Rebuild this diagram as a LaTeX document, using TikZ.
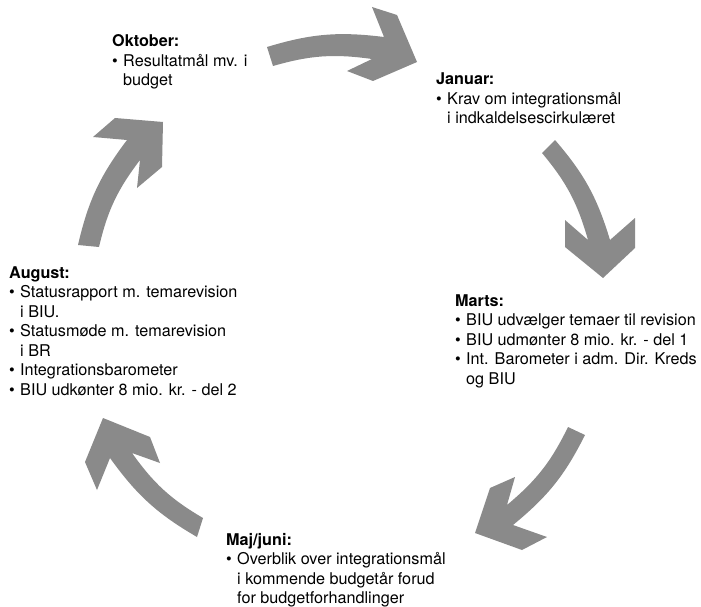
\documentclass[tikz,border=0pt]{standalone}
\usepackage{fontspec}
\setmainfont{TeX Gyre Heros}
\definecolor{arrowgray}{RGB}{138,138,138}
\newcommand{\mybul}{\makebox[11pt][l]{\textbullet}}
\newcommand{\myind}{\hspace*{11pt}}
\newcommand{\stagetext}[1]{\begin{tabular}[t]{@{}l@{}}#1\end{tabular}}
\tikzset{
  blockarrow/.style={fill=arrowgray, draw=none},
  stage/.style={anchor=base west, inner sep=0pt, font=\fontsize{16.2}{19.5}\selectfont},
}
\begin{document}
\begin{tikzpicture}[x=1pt,y=-1pt]
\useasboundingbox (0,0) rectangle (701,607);
% arrows
\fill[blockarrow] (267,47) to[bend left=12] (384,37) -- (372,7) -- (397,15) -- (417,62) -- (373,81) -- (347,71) -- (372,59) to[bend right=12] (273,66) -- cycle;
\fill[blockarrow] (555,140) to[bend left=12] (610,240) -- (635,218) -- (635,248) -- (603,278) -- (565,247) -- (565,220) -- (588,240) to[bend right=12] (542,153) -- cycle;
\fill[blockarrow] (585,435) to[bend left=12] (513,525) -- (547,537) -- (522,550) -- (475,533) -- (490,488) -- (515,477) -- (507,505) to[bend right=12] (568,427) -- cycle;
\fill[blockarrow] (197,537) to[bend left=12] (110,458) -- (97,490) -- (85,462) -- (103,418) -- (150,437) -- (160,463) -- (132,453) to[bend right=12] (203,518) -- cycle;
\fill[blockarrow] (78,245) to[bend left=12] (127,140) -- (93,137) -- (115,118) -- (163,122) -- (162,167) -- (137,188) -- (140,160) to[bend right=12] (99,247) -- cycle;
% texts
\node[stage] (okt) at (112,47) {\stagetext{\textbf{Oktober:}\\ \mybul Resultatmål mv. i\\ \myind budget}};
\node[stage] (jan) at (436,85) {\stagetext{\textbf{Januar:}\\ \mybul Krav om integrationsmål\\ \myind i indkaldelsescirkulæret}};
\node[stage] (mar) at (455,306) {\stagetext{\textbf{Marts:}\\ \mybul BIU udvælger temaer til revision\\ \mybul BIU udmønter 8 mio. kr. - del 1\\ \mybul Int. Barometer i adm. Dir. Kreds\\ \myind og BIU}};
\node[stage] (maj) at (226,545) {\stagetext{\textbf{Maj/juni:}\\ \mybul Overblik over integrationsmål\\ \myind i kommende budgetår forud\\ \myind for budgetforhandlinger}};
\node[stage] (aug) at (9,278) {\stagetext{\textbf{August:}\\ \mybul Statusrapport m. temarevision\\ \myind i BIU.\\ \mybul Statusmøde m. temarevision\\ \myind i BR\\ \mybul Integrationsbarometer\\ \mybul BIU udkønter 8 mio. kr. - del 2}};
\end{tikzpicture}
\end{document}
